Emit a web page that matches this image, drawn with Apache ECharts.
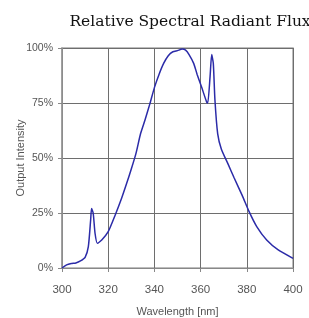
<!DOCTYPE html>
<html>
<head>
<meta charset="utf-8">
<script src="https://cdn.jsdelivr.net/npm/echarts@6/dist/echarts.min.js"></script>
<style>
  html, body { margin: 0; padding: 0; background: #fff; }
  #chart { width: 309px; height: 318px; }
</style>
</head>
<body>
<div id="chart"></div>
<script>
// wavelength [nm] / relative output [%]
var WAVELENGTH = [300, 302, 304, 306, 308, 310, 311.4, 312.4, 312.8, 313.5, 314.3, 315.3, 317.2, 320, 323, 325.8, 328,
  330, 332, 334, 336, 338, 340, 342, 344, 346, 348, 350, 352, 353.5, 355, 357, 358.5, 360.5, 362.6, 363.1,
  364.1, 364.8, 365.5, 366.2, 367.4, 369, 372, 374.5, 378, 381, 384.3, 388.6, 393.6, 400];
var INTENSITY = [0, 1.4, 2, 2.3, 3.2, 4.8, 9.7, 21.8, 27, 25, 15.8, 11.2, 12.7, 16.5, 24, 31.7, 38.5,
  45, 52, 61, 67.5, 74.5, 82, 88, 93, 96.5, 98.3, 98.8, 99.5, 99, 97, 93, 88, 82, 75.5, 75,
  87, 97, 93, 76.5, 61, 54, 47, 41, 33, 25.6, 18.8, 12.7, 8.2, 4.4];
var X_TICKS = [300, 320, 340, 360, 380, 400];
var Y_TICKS = [0, 25, 50, 75, 100];

var lineData = [];
for (var i = 0; i < WAVELENGTH.length; i++) {
    lineData.push([WAVELENGTH[i], INTENSITY[i]]);
}

var labelFont = '"Liberation Sans Narrow", "Liberation Sans", sans-serif';

var option = {
    animation: false,
    title: {
        text: 'Relative Spectral Radiant Flux',
        left: 185,
        top: 9,
        textAlign: 'center',
        textStyle: {
            fontFamily: '"DejaVu Serif", serif',
            fontWeight: 'normal',
            fontSize: 15.5,
            color: '#111'
        }
    },
    grid: {
        left: 62,
        right: 16,
        top: 48,
        bottom: 50,
        outerBoundsMode: 'none',
        containLabel: false,
        show: true,
        borderColor: '#a8a8a8',
        borderWidth: 1.5
    },
    xAxis: {
        type: 'value',
        min: X_TICKS[0],
        max: X_TICKS[X_TICKS.length - 1],
        interval: 20,
        name: 'Wavelength [nm]',
        nameLocation: 'middle',
        nameGap: 38,
        nameMoveOverlap: false,
        nameTextStyle: { fontFamily: labelFont, fontSize: 11, color: '#555' },
        axisLine: { show: true, lineStyle: { color: '#888', width: 1 } },
        axisTick: { show: true, length: 4, lineStyle: { color: '#888' } },
        axisLabel: { fontFamily: labelFont, fontSize: 11.5, color: '#555', margin: 16 },
        splitLine: { show: true, lineStyle: { color: '#6e6e6e', width: 1 } }
    },
    yAxis: {
        type: 'value',
        min: Y_TICKS[0],
        max: Y_TICKS[Y_TICKS.length - 1],
        interval: 25,
        name: 'Output Intensity',
        nameLocation: 'middle',
        nameGap: 36,
        nameMoveOverlap: false,
        nameRotate: 90,
        nameTextStyle: { fontFamily: labelFont, fontSize: 11, color: '#555' },
        axisLine: { show: true, lineStyle: { color: '#999', width: 1.5 } },
        axisTick: { show: true, length: 4, lineStyle: { color: '#888' } },
        axisLabel: {
            fontFamily: labelFont,
            fontSize: 10.5,
            color: '#555',
            margin: 9,
            formatter: '{value}%'
        },
        splitLine: { show: true, lineStyle: { color: '#6e6e6e', width: 1 } }
    },
    series: [
        {
            type: 'line',
            data: lineData,
            showSymbol: false,
            smooth: 0.2,
            lineStyle: { color: '#2b2ba8', width: 1.5 }
        }
    ]
};

var myChart = echarts.init(document.getElementById('chart'));
myChart.setOption(option);
</script>
</body>
</html>
